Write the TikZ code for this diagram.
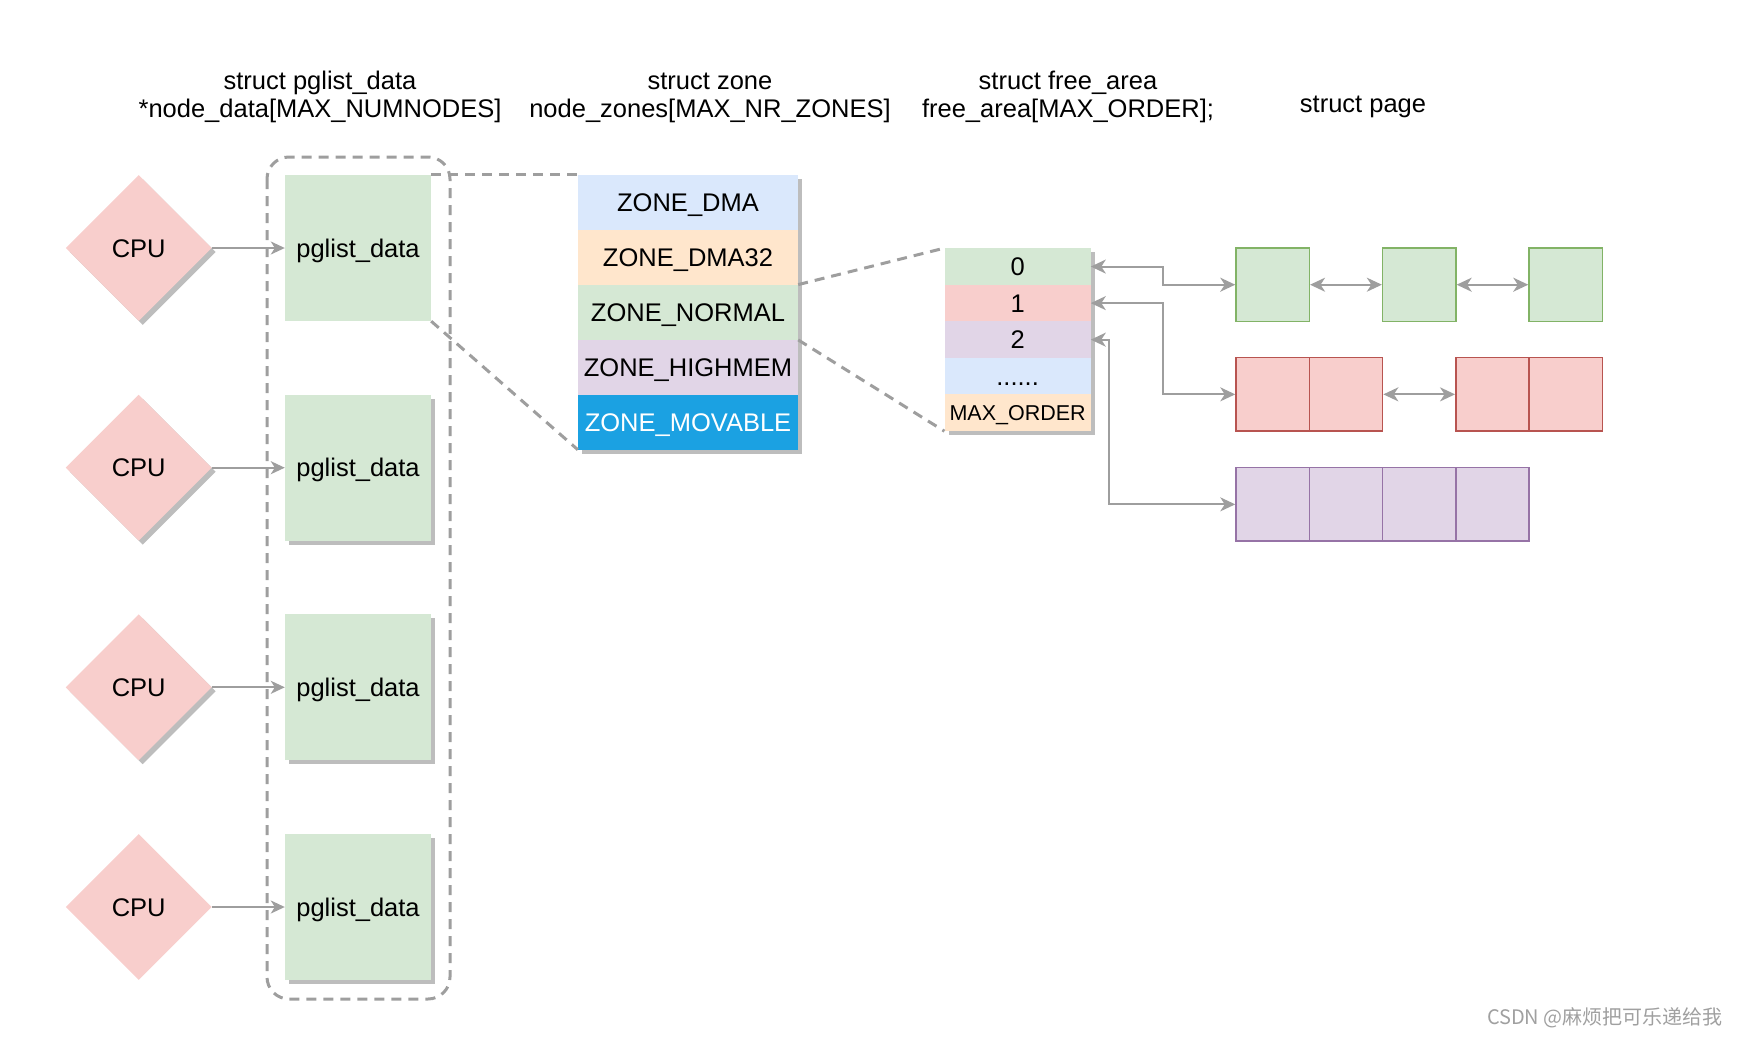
\documentclass[tikz,border=0pt]{standalone}
\usepackage{fontspec}
\setmainfont{Liberation Sans}
\newfontfamily\cjkfont{Noto Sans CJK SC}
\usetikzlibrary{shapes.geometric,arrows.meta,shadows}
\definecolor{cpufill}{HTML}{F8CECC}
\definecolor{greenfill}{HTML}{D5E8D4}
\definecolor{greenline}{HTML}{82B366}
\definecolor{redfill}{HTML}{F8CECC}
\definecolor{redline}{HTML}{B85450}
\definecolor{purplefill}{HTML}{E1D5E7}
\definecolor{purpleline}{HTML}{9673A6}
\definecolor{bluefill}{HTML}{DAE8FC}
\definecolor{peachfill}{HTML}{FFE6CC}
\definecolor{movfill}{HTML}{1BA1E2}
\definecolor{linec}{HTML}{9E9E9E}
\definecolor{shadowc}{HTML}{BDBDBD}
\definecolor{wmark}{HTML}{A0A0A0}
\begin{document}
\begin{tikzpicture}[x=1pt,y=-1pt,
  txt/.style={font=\fontsize{25.5}{29}\selectfont, text=black, text height=18.3pt, text depth=0pt, inner sep=0pt},
  cpu/.style={diamond, aspect=1, fill=cpufill, draw=none, minimum width=146pt, minimum height=146pt, txt},
  shd/.style={general shadow={fill=shadowc, shadow xshift=4pt, shadow yshift=-4pt}},
  pgbox/.style={rectangle, fill=greenfill, minimum width=146pt, minimum height=146pt, txt},
  zonerow/.style={rectangle, minimum width=220pt, minimum height=54.9pt, txt},
  farow/.style={rectangle, minimum width=146pt, minimum height=36.54pt, txt},
  cell/.style={rectangle, line width=1.5pt, minimum width=73.3pt, minimum height=73.5pt, inner sep=0pt},
  gcell/.style={cell, fill=greenfill, draw=greenline},
  rcell/.style={cell, fill=redfill, draw=redline},
  pcell/.style={cell, fill=purplefill, draw=purpleline},
  arr/.style={draw=linec, line width=2pt, -{Stealth[length=14pt, width=13pt, inset=4pt]}},
  biarr/.style={draw=linec, line width=2pt, {Stealth[length=15pt, width=14pt, inset=4.5pt]}-{Stealth[length=15pt, width=14pt, inset=4.5pt]}},
  dsh/.style={draw=linec, line width=3pt, dash pattern=on 10pt off 7pt},
  hdr/.style={txt}
]
\useasboundingbox (0,0) rectangle (1737,1039);

% headers
\node[hdr] (h1a) at (320,80) {struct pglist\_data};
\node[hdr] (h1b) at (320,108.6) {*node\_data[MAX\_NUMNODES]};
\node[hdr] (h2a) at (710,80) {struct zone};
\node[hdr] (h2b) at (710,108.6) {node\_zones[MAX\_NR\_ZONES]};
\node[hdr] (h3a) at (1068,80) {struct free\_area};
\node[hdr] (h3b) at (1068,108.6) {free\_area[MAX\_ORDER];};
\node[hdr] (h4) at (1363,103) {struct page};

% CPUs
\node[cpu, shd] (cpu1) at (138.7,248) {CPU};
\node[cpu, shd] (cpu2) at (138.7,467.7) {CPU};
\node[cpu, shd] (cpu3) at (138.7,687.3) {CPU};
\node[cpu] (cpu4) at (138.7,907) {CPU};

% pglist_data boxes
\node[pgbox] (pg1) at (358,248) {pglist\_data};
\node[pgbox, shd] (pg2) at (358,467.7) {pglist\_data};
\node[pgbox, shd] (pg3) at (358,687.3) {pglist\_data};
\node[pgbox, shd] (pg4) at (358,907) {pglist\_data};

% container
\draw[dsh, rounded corners=22pt] (267,157) rectangle (450,999);

% CPU arrows
\draw[arr] (cpu1.east) -- (pg1.west);
\draw[arr] (cpu2.east) -- (pg2.west);
\draw[arr] (cpu3.east) -- (pg3.west);
\draw[arr] (cpu4.east) -- (pg4.west);

% zone table
\fill[shadowc] (582,179) rectangle (802,453.5);
\node[zonerow, fill=bluefill] (zdma) at (688,202.45) {ZONE\_DMA};
\node[zonerow, fill=peachfill] (zdma32) at (688,257.35) {ZONE\_DMA32};
\node[zonerow, fill=greenfill] (znormal) at (688,312.25) {ZONE\_NORMAL};
\node[zonerow, fill=purplefill] (zhigh) at (688,367.15) {ZONE\_HIGHMEM};
\node[zonerow, fill=movfill, text=white] (zmov) at (688,422.05) {ZONE\_MOVABLE};

% dashed links pglist -> zone
\draw[dsh] (pg1.north east) -- (zdma.north west);
\draw[dsh] (pg1.south east) -- (zmov.south west);

% free_area table
\fill[shadowc] (948.6,252.3) rectangle (1094.6,435.3);
\node[farow, fill=greenfill] (fa0) at (1017.6,266.57) {0};
\node[farow, fill=redfill] (fa1) at (1017.6,303.11) {1};
\node[farow, fill=purplefill] (fa2) at (1017.6,339.65) {2};
\node[farow, fill=bluefill] (fadots) at (1017.6,376.19) {......};
\node[farow, fill=peachfill, font=\fontsize{21.5}{25}\selectfont, text height=15.4pt] (famax) at (1017.6,412.73) {MAX\_ORDER};

% dashed links zone -> free_area
\draw[dsh] (znormal.north east) -- (fa0.north west);
\draw[dsh] (znormal.south east) -- (famax.south west);

% pages
\node[gcell] (g1) at (1272.65,284.7) {};
\node[gcell] (g2) at (1419.25,284.7) {};
\node[gcell] (g3) at (1565.65,284.7) {};
\node[rcell] (r1) at (1272.65,394.35) {};
\node[rcell] (r2) at (1345.95,394.35) {};
\node[rcell] (r3) at (1492.45,394.35) {};
\node[rcell] (r4) at (1565.75,394.35) {};
\node[pcell] (p1) at (1272.65,504.35) {};
\node[pcell] (p2) at (1345.95,504.35) {};
\node[pcell] (p3) at (1419.25,504.35) {};
\node[pcell] (p4) at (1492.55,504.35) {};

% links
\coordinate (j01) at (1163.4,0);
\coordinate (j2) at (1108.5,0);
\draw[biarr] (fa0.east) -- (j01 |- fa0.east) |- (g1.west);
\draw[biarr] (fa1.east) -- (j01 |- fa1.east) |- (r1.west);
\draw[biarr] (fa2.east) -- (j2 |- fa2.east) |- (p1.west);
\draw[biarr] (g1.east) -- (g2.west);
\draw[biarr] (g2.east) -- (g3.west);
\draw[biarr] (r2.east) -- (r3.west);

% watermark
\node[anchor=east, font=\cjkfont\fontsize{20}{24}\selectfont, text=wmark, inner sep=0pt] (wm) at (1723,1018) {CSDN @麻烦把可乐递给我};
\end{tikzpicture}
\end{document}
